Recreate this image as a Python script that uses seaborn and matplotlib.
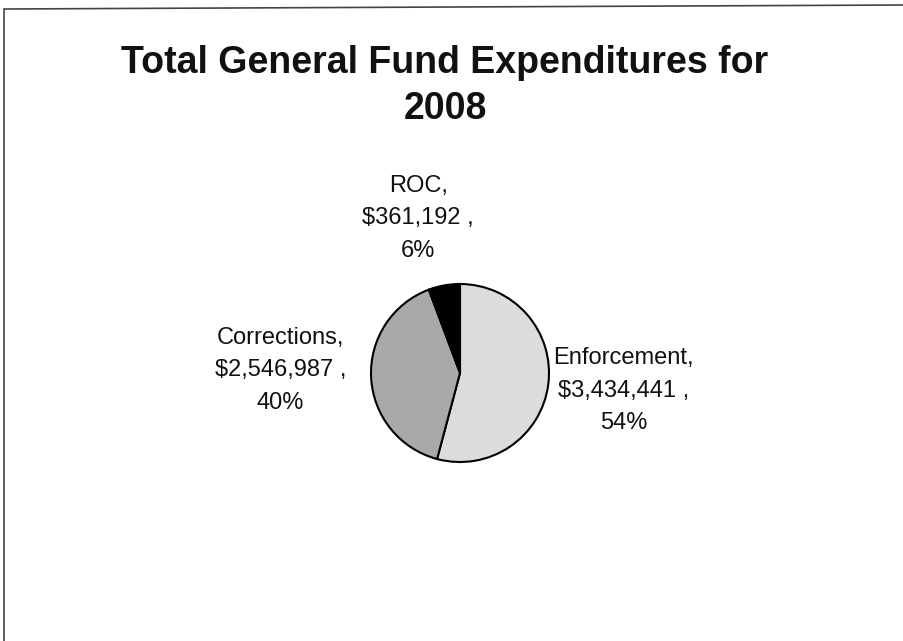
#!/usr/bin/env python3

import matplotlib.pyplot as plt
from matplotlib.lines import Line2D
import seaborn as sns
import numpy as np

categories = ['Enforcement', 'Corrections', 'ROC']
amounts = [3434441, 2546987, 361192]
slice_colors = ['#dcdcdc', '#a9a9a9', '#000000']

# label anchors (pie radius units), text block centres
label_xy = [(1.84, -0.2), (-2.02, 0.03), (-0.47, 1.74)]


def main():
    sns.set_style('white')
    plt.rcParams['font.family'] = ['Liberation Sans', 'DejaVu Sans']

    fig = plt.figure(figsize=(9.04, 6.41), dpi=100)
    W, H = 904, 641
    cx, cy, r = 460, 373, 89
    lim = 2.5
    side = 2 * r * lim
    ax = fig.add_axes([(cx - side / 2) / W, (H - cy - side / 2) / H, side / W, side / H])

    ax.pie(amounts, colors=slice_colors, startangle=90, counterclock=False,
           radius=1, wedgeprops=dict(edgecolor='black', linewidth=1.5))
    ax.set_xlim(-lim, lim)
    ax.set_ylim(-lim, lim)
    ax.set_aspect('equal')
    ax.axis('off')

    total = sum(amounts)
    for cat, amt, (x, y) in zip(categories, amounts, label_xy):
        pct = 100 * amt / total
        txt = f'{cat},\n${amt:,} ,\n{pct:.0f}%'
        ax.text(x, y, txt, ha='center', va='center', multialignment='center',
                fontsize=17, linespacing=1.62, color='#111111')

    fig.text(445 / W, 1 - 86 / H, 'Total General Fund Expenditures for\n2008',
             ha='center', va='center', fontsize=27, fontweight='bold',
             linespacing=1.36, color='#111111')

    # chart border (left and top edges visible in the scan)
    fig.add_artist(Line2D([4.5 / W, 4.5 / W], [0, 1 - 9 / H], transform=fig.transFigure,
                          color='#444444', linewidth=1.2))
    fig.add_artist(Line2D([4.5 / W, 1], [1 - 9 / H, 1 - 5 / H], transform=fig.transFigure,
                          color='#444444', linewidth=1.2))

    fig.savefig('out.png', dpi=100)


if __name__ == '__main__':
    main()
